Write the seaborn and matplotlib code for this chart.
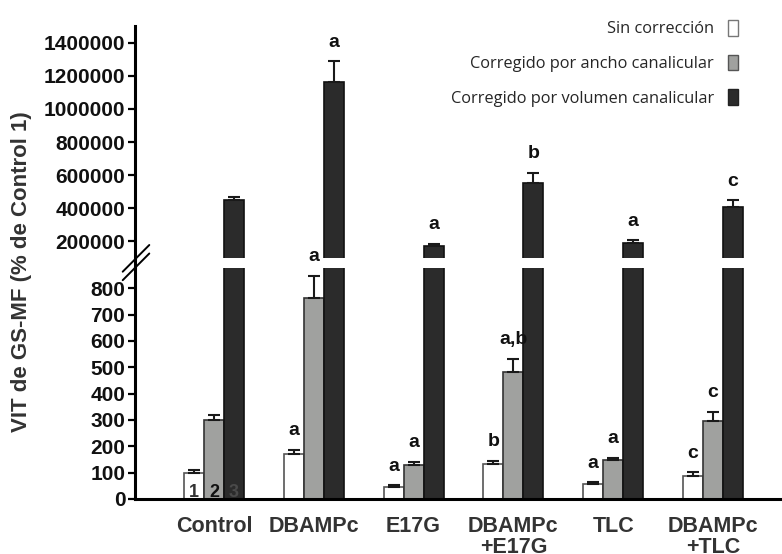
import numpy as np
import pandas as pd
import matplotlib
matplotlib.use("Agg")
import matplotlib.pyplot as plt
from matplotlib.lines import Line2D
from matplotlib.patches import Patch
from matplotlib.ticker import FixedLocator, StrMethodFormatter
import seaborn as sns

# ---- data -------------------------------------------------------------
grupos = ["Control", "DBAMPc", "E17G", "DBAMPc\n+E17G", "TLC", "DBAMPc\n+TLC"]
series = ["Sin corrección",
          "Corregido por ancho canalicular",
          "Corregido por volumen canalicular"]
series_tags = ["1", "2", "3"]

sin_correccion = [100, 171, 46, 133, 56, 89]
sin_correccion_err = [9, 15, 6, 13, 8, 12]

corr_ancho = [300, 765, 129, 483, 148, 297]
corr_ancho_err = [18, 83, 13, 49, 8, 33]

corr_volumen = [450000, 1164000, 172000, 554000, 192000, 409000]
corr_volumen_err = [19000, 124000, 14000, 60000, 16000, 40000]

letras_sin = ["", "a", "a", "b", "a", "c"]
letras_ancho = ["", "a", "a", "a,b", "a", "c"]
letras_volumen = ["", "a", "a", "b", "a", "c"]

ticks_alto = [200000, 400000, 600000, 800000, 1000000, 1200000, 1400000]
ticks_bajo = [0, 100, 200, 300, 400, 500, 600, 700, 800]

valores = [sin_correccion, corr_ancho, corr_volumen]
errores = [sin_correccion_err, corr_ancho_err, corr_volumen_err]
letras = [letras_sin, letras_ancho, letras_volumen]

df = pd.DataFrame({
    "grupo": np.repeat([grupos], 3, axis=0).ravel(),
    "serie": np.repeat(series, len(grupos)),
    "valor": np.concatenate(valores),
})

colores = {series[0]: "#ffffff", series[1]: "#a0a19f", series[2]: "#2b2b2b"}
bordes = ["#555555", "#333333", "#111111"]

# ---- style ------------------------------------------------------------
sns.set_style("ticks")
plt.rcParams["font.family"] = ["Liberation Sans", "DejaVu Sans"]

W, H = 782, 554
fig = plt.figure(figsize=(W / 100, H / 100), dpi=100)

x_left = 135 / W
ax_top = fig.add_axes([x_left, 1 - 258 / H, 1 - x_left, (258 - 26) / H])
ax_bot = fig.add_axes([x_left, 1 - 499 / H, 1 - x_left, (499 - 268) / H])

for ax in (ax_top, ax_bot):
    sns.barplot(data=df, x="grupo", y="valor", hue="serie", order=grupos,
                hue_order=series, palette=colores, width=0.6, gap=0,
                errorbar=None, legend=False, ax=ax, linewidth=1.2,
                saturation=1)
    for j, cont in enumerate(ax.containers):
        for patch in cont.patches:
            patch.set_edgecolor(bordes[j])
    ax.set_xlim(-0.79, 5.69)
    ax.set_xlabel("")
    ax.set_ylabel("")
    for s in ("top", "right"):
        ax.spines[s].set_visible(False)
    ax.spines["left"].set_linewidth(2.2)
    ax.spines["bottom"].set_linewidth(2.2)
    ax.spines["left"].set_color("black")
    ax.spines["bottom"].set_color("black")
    ax.tick_params(axis="y", length=5, width=1.6, pad=2, labelsize=15,
                   labelcolor="#111111", color="black")
    ax.yaxis.set_major_formatter(StrMethodFormatter("{x:.0f}"))

ax_top.set_ylim(100000, 1500000)
ax_bot.set_ylim(0, 877)
ax_top.yaxis.set_major_locator(FixedLocator(ticks_alto))
ax_bot.yaxis.set_major_locator(FixedLocator(ticks_bajo))
for ax in (ax_top, ax_bot):
    for lab in ax.get_yticklabels():
        lab.set_fontweight("bold")

ax_top.spines["bottom"].set_visible(False)
ax_top.tick_params(axis="x", bottom=False, labelbottom=False)
ax_bot.tick_params(axis="x", length=0, pad=12, labelsize=15.5,
                   labelcolor="#333333")
for lab in ax_bot.get_xticklabels():
    lab.set_fontweight("bold")
    lab.set_linespacing(1.05)

# ---- error bars and significance letters -------------------------------
for j in range(3):
    ax = ax_top if j == 2 else ax_bot
    cont = ax.containers[j]
    xs = [p.get_x() + p.get_width() / 2 for p in cont.patches]
    hs = [p.get_height() for p in cont.patches]
    err = errores[j]
    ax.errorbar(xs, hs, yerr=[np.zeros(len(err)), err], fmt="none",
                ecolor="#1a1a1a", elinewidth=1.5, capsize=4.3, capthick=1.5,
                zorder=1)
    for x, h, e, t in zip(xs, hs, err, letras[j]):
        if t:
            ax.annotate(t, (x, h + e), xytext=(0, 10.5),
                        textcoords="offset points", ha="center",
                        va="baseline", fontsize=14, fontweight="bold",
                        color="#111111", annotation_clip=False)

# series numbers inside the Control bars
tag_colors = ["#333333", "#111111", "#4a4a4a"]
for j in range(3):
    p = ax_bot.containers[j].patches[0]
    ax_bot.annotate(series_tags[j], (p.get_x() + p.get_width() / 2, 0),
                    xytext=(0, 1.2), textcoords="offset points",
                    ha="center", va="baseline", fontsize=13,
                    fontweight="bold", color=tag_colors[j])

# continuous left axis line across the break
fig.add_artist(Line2D([x_left, x_left], [1 - 268 / H, 1 - 258 / H],
                      transform=fig.transFigure, color="black", lw=2.2))
# break marks
for dy in (0, 8.5):
    fig.add_artist(Line2D([122.7 / W, 149.3 / W],
                          [1 - (271.7 + dy) / H, 1 - (245 + dy) / H],
                          transform=fig.transFigure, color="black", lw=1.4))

# y label spanning both panels
fig.text(22 / W, 1 - 272 / H, "VIT de GS-MF (% de Control 1)", rotation=90,
         ha="center", va="center", fontsize=16, fontweight="bold",
         color="#333333")

# legend
handles = [Patch(facecolor=colores[s], edgecolor=e, linewidth=1.0)
           for s, e in zip(series, ["#777777", "#555555", "#222222"])]
fig.legend(handles, series, loc="upper right",
           bbox_to_anchor=(738 / W, 1 - 20 / H), frameon=False,
           markerfirst=False, handlelength=0.6, handleheight=1.1,
           handletextpad=0.85, labelspacing=1.05, borderpad=0,
           borderaxespad=0,
           prop={"family": ["Open Sans", "DejaVu Sans"], "size": 11.8})

fig.savefig("out.png", dpi=100)
